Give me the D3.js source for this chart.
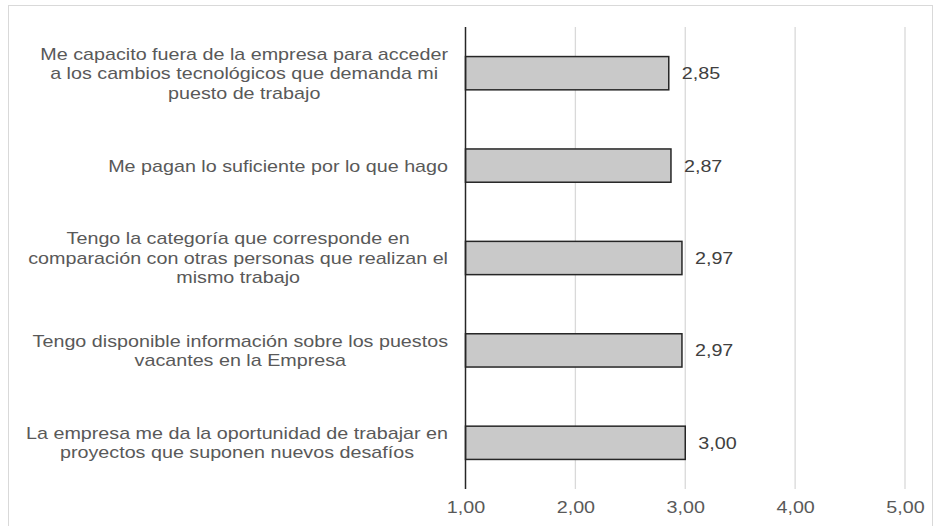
<!DOCTYPE html>
<html>
<head>
<meta charset="utf-8">
<script src="https://cdn.jsdelivr.net/npm/d3@7"></script>
<style>
  body { margin: 0; background: #fff; }
  text { font-family: "Liberation Sans", Arial, sans-serif; }
</style>
</head>
<body>
<div id="chart"></div>
<script>
// categories (top to bottom), each split into lines as in the picture
let categories = [
    ["Me capacito fuera de la empresa para acceder", "a los cambios tecnológicos que demanda mi", "puesto de trabajo"],
    ["Me pagan lo suficiente por lo que hago"],
    ["Tengo la categoría que corresponde en", "comparación con otras personas que realizan el", "mismo trabajo"],
    ["Tengo disponible información sobre los puestos", "vacantes en la Empresa"],
    ["La empresa me da la oportunidad de trabajar en", "proyectos que suponen nuevos desafíos"]
];
let values = [2.85, 2.87, 2.97, 2.97, 3.00];
let ticks = [1, 2, 3, 4, 5];

let W = 936, H = 526;
let margin = {top: 27, right: 31, bottom: 37, left: 465.5},
    width = W - margin.left - margin.right,
    height = H - margin.top - margin.bottom;

// the source text is drawn a bit wide
let sx = 1.16, fs = 17;

let svg = d3.select("#chart")
    .append("svg")
    .attr("width", W)
    .attr("height", H);

// outer frame
svg.append("rect")
    .attr("x", 8.5).attr("y", 5.5)
    .attr("width", 924).attr("height", 530)
    .attr("fill", "none")
    .attr("stroke", "#d9d9d9");

let g = svg.append("g")
    .attr("transform", "translate(" + margin.left + "," + margin.top + ")");

let x = d3.scaleLinear()
    .domain([1, 5])
    .range([0, 439.5]);

let y = d3.scaleBand()
    .domain(d3.range(categories.length))
    .range([0, height])
    .paddingInner(0.64)
    .paddingOuter(0.32);

let fmt = d => d3.format(".2f")(d).replace(".", ",");

// gridlines
g.selectAll(".grid")
    .data(ticks.slice(1))
    .enter()
    .append("line")
    .attr("x1", d => x(d)).attr("x2", d => x(d))
    .attr("y1", 0).attr("y2", height)
    .attr("stroke", "#d9d9d9")
    .attr("stroke-width", 1.3);

// x tick labels
let xAxis = g.append("g")
    .attr("transform", "translate(0," + height + ")")
    .call(d3.axisBottom(x).tickValues(ticks).tickSize(0).tickPadding(12).tickFormat(fmt));
xAxis.select(".domain").remove();
xAxis.selectAll("text")
    .style("font-size", fs + "px")
    .style("font-family", "'Liberation Sans', Arial, sans-serif")
    .attr("transform", "scale(" + sx + ",1)")
    .attr("fill", "#595959");

// bars
g.selectAll(".bar")
    .data(values)
    .enter()
    .append("rect")
    .attr("x", x(1))
    .attr("y", (d, i) => y(i))
    .attr("width", d => x(d) - x(1))
    .attr("height", y.bandwidth())
    .attr("fill", "#c9c9c9")
    .attr("stroke", "#262626")
    .attr("stroke-width", 1.5);

// value labels
g.selectAll(".val")
    .data(values)
    .enter()
    .append("g")
    .attr("transform", (d, i) => "translate(" + (x(d) + 13) + "," + (y(i) + y.bandwidth() / 2) + ") scale(" + sx + ",1)")
    .append("text")
    .attr("dy", "0.35em")
    .style("font-size", fs + "px")
    .attr("fill", "#404040")
    .text(fmt);

// vertical axis line
g.append("line")
    .attr("x1", 0).attr("x2", 0)
    .attr("y1", 0).attr("y2", height)
    .attr("stroke", "#262626")
    .attr("stroke-width", 1.5);

// category labels, centred lines, right edge at 448
let lineH = 19.5;
categories.forEach(function(lines, i) {
    let cy = y(i) + y.bandwidth() / 2;
    let t = g.append("g")
        .attr("transform", "translate(-17.5," + cy + ") scale(" + sx + ",1)")
        .append("text")
        .attr("text-anchor", "middle")
        .style("font-size", fs + "px")
        .attr("fill", "#595959");
    lines.forEach(function(line, j) {
        t.append("tspan")
            .attr("y", (j - (lines.length - 1) / 2) * lineH)
            .attr("dy", "0.35em")
            .text(line);
    });
    let maxW = d3.max(t.selectAll("tspan").nodes(), n => n.getComputedTextLength());
    t.selectAll("tspan").attr("x", -maxW / 2);
});
</script>
</body>
</html>
